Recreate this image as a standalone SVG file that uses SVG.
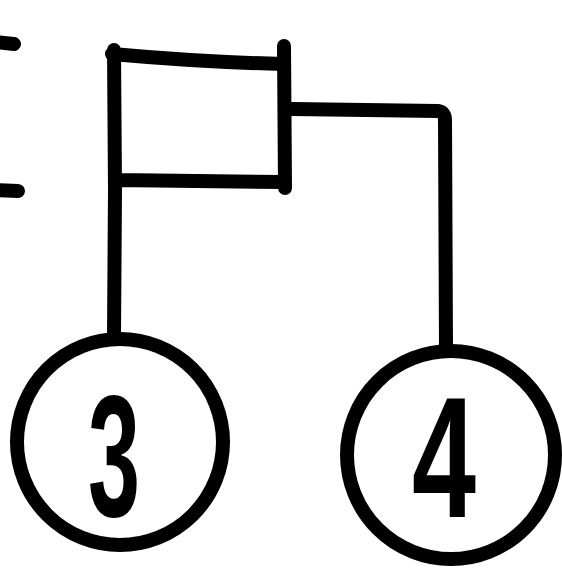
<svg xmlns="http://www.w3.org/2000/svg" width="562" height="585" viewBox="0 0 562 585">
<style>
.ln{fill:none;stroke:#000;stroke-width:14;stroke-linecap:round;stroke-linejoin:round}
.lbl{font-family:"Liberation Sans",Arial,sans-serif;font-weight:bold;font-size:172px;fill:#000;text-anchor:middle}
</style>
<rect width="562" height="585" fill="#fff"/>
<g id="marks">
<path class="ln" d="M-4 42 L14 44" stroke-width="16"/>
<path class="ln" d="M-4 190 L18 191" stroke-width="20"/>
</g>
<g id="connectors">
<path class="ln" d="M115 190 L114 335"/>
<path class="ln" d="M292 109 L438 111 Q445 112 445 120 L446 348"/>
</g>
<g id="box">
<path class="ln" d="M114 50 L115 190 M112 54 Q200 62 284 64 M116 180 L284 182"/>
<path class="ln" d="M284 46 L285 188" stroke-width="20"/>
</g>
<g id="node3">
<circle class="ln" cx="120" cy="442" r="103"/>
<text class="lbl" x="114" y="516" textLength="52" lengthAdjust="spacingAndGlyphs">3</text>
</g>
<g id="node4">
<circle class="ln" cx="451" cy="455" r="104"/>
<text class="lbl" x="444" y="517" textLength="64" lengthAdjust="spacingAndGlyphs">4</text>
</g>
</svg>
